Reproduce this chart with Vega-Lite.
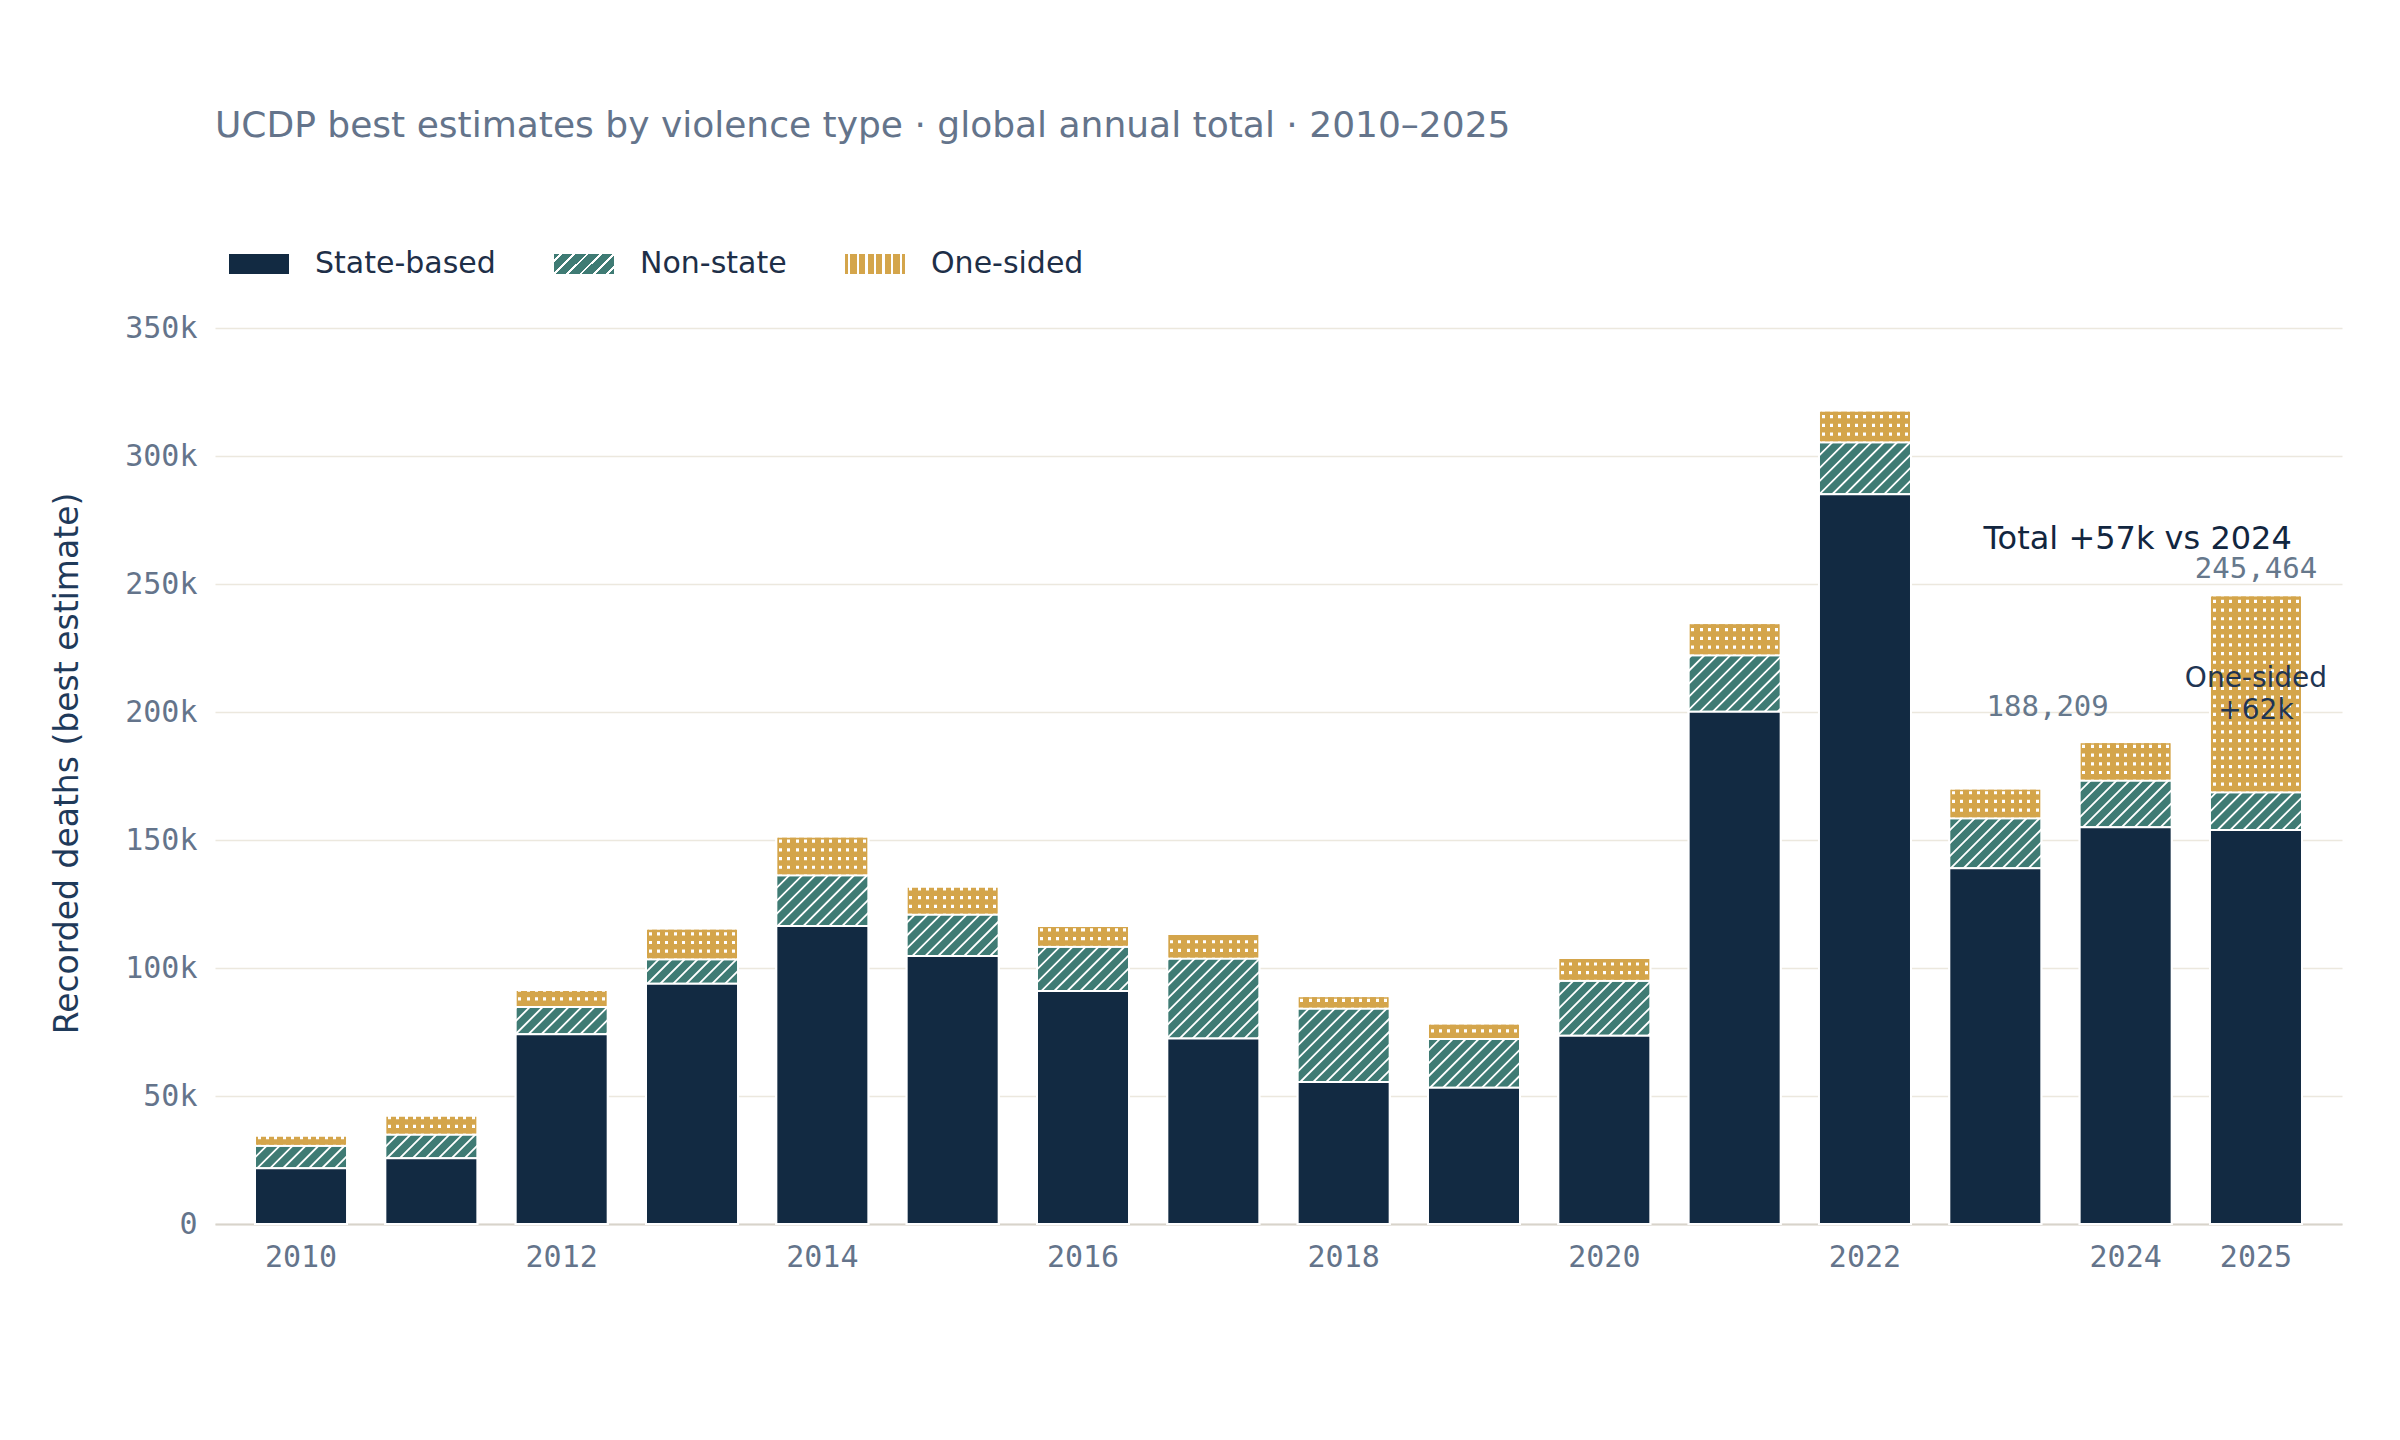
{
  "$schema": "https://vega.github.io/schema/vega-lite/v6.json",
  "width": 2127,
  "height": 896,
  "autosize": "none",
  "padding": {"left": 215, "top": 328, "right": 58, "bottom": 216},
  "background": "#ffffff",
  "title": {
    "text": "UCDP best estimates by violence type · global annual total · 2010–2025",
    "anchor": "start",
    "frame": "group",
    "font": "DejaVu Sans",
    "fontSize": 36,
    "fontWeight": "normal",
    "color": "#64748b",
    "offset": 89
  },
  "data": {
    "values": [
      {"year": 2010, "type": "State-based", "deaths": 21800},
      {"year": 2010, "type": "Non-state", "deaths": 8800},
      {"year": 2010, "type": "One-sided", "deaths": 3900},
      {"year": 2011, "type": "State-based", "deaths": 25700},
      {"year": 2011, "type": "Non-state", "deaths": 9300},
      {"year": 2011, "type": "One-sided", "deaths": 7300},
      {"year": 2012, "type": "State-based", "deaths": 74100},
      {"year": 2012, "type": "Non-state", "deaths": 10700},
      {"year": 2012, "type": "One-sided", "deaths": 6600},
      {"year": 2013, "type": "State-based", "deaths": 93800},
      {"year": 2013, "type": "Non-state", "deaths": 9600},
      {"year": 2013, "type": "One-sided", "deaths": 11900},
      {"year": 2014, "type": "State-based", "deaths": 116400},
      {"year": 2014, "type": "Non-state", "deaths": 19800},
      {"year": 2014, "type": "One-sided", "deaths": 15100},
      {"year": 2015, "type": "State-based", "deaths": 104700},
      {"year": 2015, "type": "Non-state", "deaths": 16200},
      {"year": 2015, "type": "One-sided", "deaths": 10800},
      {"year": 2016, "type": "State-based", "deaths": 91000},
      {"year": 2016, "type": "Non-state", "deaths": 17300},
      {"year": 2016, "type": "One-sided", "deaths": 8100},
      {"year": 2017, "type": "State-based", "deaths": 72500},
      {"year": 2017, "type": "Non-state", "deaths": 31200},
      {"year": 2017, "type": "One-sided", "deaths": 9600},
      {"year": 2018, "type": "State-based", "deaths": 55500},
      {"year": 2018, "type": "Non-state", "deaths": 28700},
      {"year": 2018, "type": "One-sided", "deaths": 4800},
      {"year": 2019, "type": "State-based", "deaths": 53200},
      {"year": 2019, "type": "Non-state", "deaths": 19100},
      {"year": 2019, "type": "One-sided", "deaths": 5900},
      {"year": 2020, "type": "State-based", "deaths": 73500},
      {"year": 2020, "type": "Non-state", "deaths": 21500},
      {"year": 2020, "type": "One-sided", "deaths": 8900},
      {"year": 2021, "type": "State-based", "deaths": 200100},
      {"year": 2021, "type": "Non-state", "deaths": 22100},
      {"year": 2021, "type": "One-sided", "deaths": 12500},
      {"year": 2022, "type": "State-based", "deaths": 285100},
      {"year": 2022, "type": "Non-state", "deaths": 20300},
      {"year": 2022, "type": "One-sided", "deaths": 12300},
      {"year": 2023, "type": "State-based", "deaths": 139000},
      {"year": 2023, "type": "Non-state", "deaths": 19500},
      {"year": 2023, "type": "One-sided", "deaths": 11500},
      {"year": 2024, "type": "State-based", "deaths": 155000},
      {"year": 2024, "type": "Non-state", "deaths": 18200},
      {"year": 2024, "type": "One-sided", "deaths": 15009},
      {"year": 2025, "type": "State-based", "deaths": 153900},
      {"year": 2025, "type": "Non-state", "deaths": 14800},
      {"year": 2025, "type": "One-sided", "deaths": 76764}
    ]
  },
  "transform": [
    {"calculate": "indexof(['State-based', 'Non-state', 'One-sided'], datum.type)", "as": "ord"},
    {"stack": "deaths", "groupby": ["year"], "sort": [{"field": "ord", "order": "ascending"}], "as": ["y0", "y1"]},
    {"calculate": "(datum.y0 + datum.y1) / 2", "as": "ymid"}
  ],
  "layer": [
    {
      "mark": {"type": "bar", "stroke": "#ffffff", "strokeWidth": 2},
      "encoding": {
        "x": {
          "field": "year",
          "type": "ordinal",
          "title": null,
          "scale": {"type": "band", "paddingInner": 0.294, "paddingOuter": 0.307},
          "axis": {"values": [2010, 2012, 2014, 2016, 2018, 2020, 2022, 2024, 2025]}
        },
        "y": {
          "field": "y0",
          "type": "quantitative",
          "title": "Recorded deaths (best estimate)",
          "scale": {"domain": [0, 350000], "nice": false},
          "axis": {
            "values": [0, 50000, 100000, 150000, 200000, 250000, 300000, 350000],
            "labelExpr": "datum.value === 0 ? '0' : format(datum.value, '~s')"
          }
        },
        "y2": {"field": "y1"},
        "color": {
          "field": "type",
          "type": "nominal",
          "scale": {
            "domain": ["State-based", "Non-state", "One-sided"],
            "range": [
              "#122a42",
              {"expr": "{gradient: 'linear', x1: 0, y1: 0, x2: 1.2, y2: 0.4, stops: [{offset: 0, color: '#3f7b74'}, {offset: 0.0667, color: '#3f7b74'}, {offset: 0.0667, color: '#ffffff'}, {offset: 0.1, color: '#ffffff'}, {offset: 0.1, color: '#3f7b74'}, {offset: 0.2333, color: '#3f7b74'}, {offset: 0.2333, color: '#ffffff'}, {offset: 0.2667, color: '#ffffff'}, {offset: 0.2667, color: '#3f7b74'}, {offset: 0.4, color: '#3f7b74'}, {offset: 0.4, color: '#ffffff'}, {offset: 0.4333, color: '#ffffff'}, {offset: 0.4333, color: '#3f7b74'}, {offset: 0.5667, color: '#3f7b74'}, {offset: 0.5667, color: '#ffffff'}, {offset: 0.6, color: '#ffffff'}, {offset: 0.6, color: '#3f7b74'}, {offset: 0.7333, color: '#3f7b74'}, {offset: 0.7333, color: '#ffffff'}, {offset: 0.7667, color: '#ffffff'}, {offset: 0.7667, color: '#3f7b74'}, {offset: 0.9, color: '#3f7b74'}, {offset: 0.9, color: '#ffffff'}, {offset: 0.9333, color: '#ffffff'}, {offset: 0.9333, color: '#3f7b74'}, {offset: 1, color: '#3f7b74'}]}"},
              {"expr": "{gradient: 'linear', x1: 0, y1: 0, x2: 1, y2: 0, stops: [{offset: 0, color: '#d4a54b'}, {offset: 0.0536, color: '#d4a54b'}, {offset: 0.0536, color: '#ffffff'}, {offset: 0.0893, color: '#ffffff'}, {offset: 0.0893, color: '#d4a54b'}, {offset: 0.1964, color: '#d4a54b'}, {offset: 0.1964, color: '#ffffff'}, {offset: 0.2321, color: '#ffffff'}, {offset: 0.2321, color: '#d4a54b'}, {offset: 0.3393, color: '#d4a54b'}, {offset: 0.3393, color: '#ffffff'}, {offset: 0.375, color: '#ffffff'}, {offset: 0.375, color: '#d4a54b'}, {offset: 0.4821, color: '#d4a54b'}, {offset: 0.4821, color: '#ffffff'}, {offset: 0.5179, color: '#ffffff'}, {offset: 0.5179, color: '#d4a54b'}, {offset: 0.625, color: '#d4a54b'}, {offset: 0.625, color: '#ffffff'}, {offset: 0.6607, color: '#ffffff'}, {offset: 0.6607, color: '#d4a54b'}, {offset: 0.7679, color: '#d4a54b'}, {offset: 0.7679, color: '#ffffff'}, {offset: 0.8036, color: '#ffffff'}, {offset: 0.8036, color: '#d4a54b'}, {offset: 0.9107, color: '#d4a54b'}, {offset: 0.9107, color: '#ffffff'}, {offset: 0.9464, color: '#ffffff'}, {offset: 0.9464, color: '#d4a54b'}, {offset: 1, color: '#d4a54b'}]}"}
            ]
          },
          "legend": {
            "title": null,
            "orient": "none",
            "legendX": 14,
            "legendY": -94,
            "direction": "horizontal",
            "symbolType": "M-1,-0.33H1V0.33H-1Z",
            "symbolSize": 3600,
            "symbolStrokeWidth": 0,
            "symbolOpacity": 1,
            "labelFont": "DejaVu Sans",
            "labelFontSize": 30,
            "labelColor": "#1e2f48",
            "labelLimit": 500,
            "labelOffset": 26,
            "columnPadding": 58
          }
        }
      }
    },
    {
      "transform": [{"filter": "datum.type === 'Non-state'"}],
      "mark": {"type": "bar", "color": "#3f7b74", "stroke": "#ffffff", "strokeWidth": 2},
      "encoding": {
        "x": {"field": "year", "type": "ordinal"},
        "y": {"field": "y0", "type": "quantitative", "title": "Recorded deaths (best estimate)"},
        "y2": {"field": "y1"}
      }
    },
    {
      "transform": [{"filter": "datum.type === 'Non-state'"}],
      "mark": {
        "type": "point",
        "shape": "M-1,-0.868L-0.968,-0.9L-0.912,-0.9L-1,-0.812Z M-1,-0.586L-0.686,-0.9L-0.629,-0.9L-1,-0.529Z M-1,-0.303L-0.403,-0.9L-0.347,-0.9L-1,-0.247Z M-1,-0.02L-0.12,-0.9L-0.064,-0.9L-1,0.036Z M-1,0.262L0.162,-0.9L0.219,-0.9L-1,0.319Z M-1,0.545L0.445,-0.9L0.501,-0.9L-1,0.601Z M-1,0.827L0.727,-0.9L0.784,-0.9L-1,0.884Z M-0.79,0.9L1,-0.89L1,-0.833L-0.733,0.9Z M-0.507,0.9L1,-0.607L1,-0.551L-0.451,0.9Z M-0.225,0.9L1,-0.325L1,-0.268L-0.168,0.9Z M0.058,0.9L1,-0.042L1,0.014L0.114,0.9Z M0.34,0.9L1,0.24L1,0.297L0.397,0.9Z M0.623,0.9L1,0.523L1,0.579L0.679,0.9Z M0.906,0.9L1,0.806L1,0.862L0.962,0.9Z",
        "size": 8410,
        "filled": true,
        "color": "#ffffff",
        "opacity": 1,
        "strokeWidth": 0
      },
      "encoding": {
        "x": {"field": "year", "type": "ordinal"},
        "y": {"field": "ymid", "type": "quantitative", "title": "Recorded deaths (best estimate)"}
      }
    },
    {
      "transform": [{"filter": "datum.type === 'State-based'"}],
      "mark": {"type": "bar", "color": "#122a42", "stroke": "#ffffff", "strokeWidth": 2},
      "encoding": {
        "x": {"field": "year", "type": "ordinal"},
        "y": {"field": "y0", "type": "quantitative", "title": "Recorded deaths (best estimate)"},
        "y2": {"field": "y1"}
      }
    },
    {
      "transform": [{"filter": "datum.type === 'One-sided'"}],
      "mark": {
        "type": "bar",
        "stroke": "#ffffff",
        "strokeWidth": 2,
        "fill": {
          "gradient": "linear", "x1": 0, "y1": 0, "x2": 1, "y2": 0,
          "stops": [
            {"offset": 0, "color": "#d4a54b"},
            {"offset": 0.02909, "color": "#d4a54b"}, {"offset": 0.02909, "color": "#ffffff"}, {"offset": 0.06182, "color": "#ffffff"}, {"offset": 0.06182, "color": "#d4a54b"},
            {"offset": 0.12, "color": "#d4a54b"}, {"offset": 0.12, "color": "#ffffff"}, {"offset": 0.15273, "color": "#ffffff"}, {"offset": 0.15273, "color": "#d4a54b"},
            {"offset": 0.21091, "color": "#d4a54b"}, {"offset": 0.21091, "color": "#ffffff"}, {"offset": 0.24364, "color": "#ffffff"}, {"offset": 0.24364, "color": "#d4a54b"},
            {"offset": 0.30182, "color": "#d4a54b"}, {"offset": 0.30182, "color": "#ffffff"}, {"offset": 0.33455, "color": "#ffffff"}, {"offset": 0.33455, "color": "#d4a54b"},
            {"offset": 0.39273, "color": "#d4a54b"}, {"offset": 0.39273, "color": "#ffffff"}, {"offset": 0.42545, "color": "#ffffff"}, {"offset": 0.42545, "color": "#d4a54b"},
            {"offset": 0.48364, "color": "#d4a54b"}, {"offset": 0.48364, "color": "#ffffff"}, {"offset": 0.51636, "color": "#ffffff"}, {"offset": 0.51636, "color": "#d4a54b"},
            {"offset": 0.57455, "color": "#d4a54b"}, {"offset": 0.57455, "color": "#ffffff"}, {"offset": 0.60727, "color": "#ffffff"}, {"offset": 0.60727, "color": "#d4a54b"},
            {"offset": 0.66545, "color": "#d4a54b"}, {"offset": 0.66545, "color": "#ffffff"}, {"offset": 0.69818, "color": "#ffffff"}, {"offset": 0.69818, "color": "#d4a54b"},
            {"offset": 0.75636, "color": "#d4a54b"}, {"offset": 0.75636, "color": "#ffffff"}, {"offset": 0.78909, "color": "#ffffff"}, {"offset": 0.78909, "color": "#d4a54b"},
            {"offset": 0.84727, "color": "#d4a54b"}, {"offset": 0.84727, "color": "#ffffff"}, {"offset": 0.88, "color": "#ffffff"}, {"offset": 0.88, "color": "#d4a54b"},
            {"offset": 0.93818, "color": "#d4a54b"}, {"offset": 0.93818, "color": "#ffffff"}, {"offset": 0.97091, "color": "#ffffff"}, {"offset": 0.97091, "color": "#d4a54b"},
            {"offset": 1, "color": "#d4a54b"}
          ]
        }
      },
      "encoding": {
        "x": {"field": "year", "type": "ordinal"},
        "y": {"field": "y0", "type": "quantitative", "title": "Recorded deaths (best estimate)"},
        "y2": {"field": "y1"}
      }
    },
    {
      "transform": [{"filter": "datum.type === 'One-sided'"}],
      "mark": {
        "type": "rule",
        "color": "#d4a54b",
        "strokeWidth": 88,
        "strokeDash": [5.5, 3.2],
        "strokeCap": "butt",
        "yOffset": -1,
        "y2Offset": 1
      },
      "encoding": {
        "x": {"field": "year", "type": "ordinal"},
        "y": {"field": "y0", "type": "quantitative", "title": "Recorded deaths (best estimate)"},
        "y2": {"field": "y1"}
      }
    },
    {
      "transform": [
        {"filter": "datum.year === 2024"},
        {"aggregate": [{"op": "sum", "field": "deaths", "as": "total"}], "groupby": ["year"]}
      ],
      "mark": {
        "type": "text",
        "font": "DejaVu Sans Mono",
        "fontSize": 29,
        "color": "#66788c",
        "align": "center",
        "baseline": "alphabetic",
        "dx": -78,
        "dy": -26
      },
      "encoding": {
        "x": {"field": "year", "type": "ordinal"},
        "y": {"field": "total", "type": "quantitative", "title": "Recorded deaths (best estimate)"},
        "text": {"field": "total", "type": "quantitative", "format": ","}
      }
    },
    {
      "transform": [
        {"filter": "datum.year === 2025"},
        {"aggregate": [{"op": "sum", "field": "deaths", "as": "total"}], "groupby": ["year"]}
      ],
      "mark": {
        "type": "text",
        "font": "DejaVu Sans Mono",
        "fontSize": 29,
        "color": "#66788c",
        "align": "center",
        "baseline": "alphabetic",
        "dy": -18
      },
      "encoding": {
        "x": {"field": "year", "type": "ordinal"},
        "y": {"field": "total", "type": "quantitative", "title": "Recorded deaths (best estimate)"},
        "text": {"field": "total", "type": "quantitative", "format": ","}
      }
    },
    {
      "transform": [{"filter": "datum.year === 2024 && datum.type === 'State-based'"}],
      "mark": {
        "type": "text",
        "font": "DejaVu Sans",
        "fontSize": 32,
        "color": "#12263f",
        "align": "center",
        "baseline": "alphabetic",
        "dx": 12
      },
      "encoding": {
        "x": {"field": "year", "type": "ordinal"},
        "y": {"datum": 263800, "type": "quantitative"},
        "text": {"value": "Total +57k vs 2024"}
      }
    },
    {
      "transform": [{"filter": "datum.year === 2025 && datum.type === 'One-sided'"}],
      "mark": {
        "type": "text",
        "font": "DejaVu Sans",
        "fontSize": 28,
        "lineHeight": 32,
        "color": "#1f3552",
        "align": "center",
        "baseline": "middle",
        "dy": -15
      },
      "encoding": {
        "x": {"field": "year", "type": "ordinal"},
        "y": {"field": "ymid", "type": "quantitative", "title": "Recorded deaths (best estimate)"},
        "text": {"value": ["One-sided", "+62k"]}
      }
    }
  ],
  "config": {
    "view": {"stroke": null},
    "axis": {
      "labelFont": "DejaVu Sans Mono",
      "labelFontSize": 30,
      "labelColor": "#64748b",
      "labelPadding": 18,
      "ticks": false,
      "titleFont": "DejaVu Sans",
      "titleFontSize": 33,
      "titleFontWeight": "normal",
      "titleColor": "#1f3a5a"
    },
    "axisX": {"domainColor": "#d8d4cb", "domainWidth": 2, "grid": false, "labelAngle": 0},
    "axisY": {"domain": false, "gridColor": "#ece8de", "gridWidth": 1.5, "titlePadding": 40, "titleY": 435}
  }
}
